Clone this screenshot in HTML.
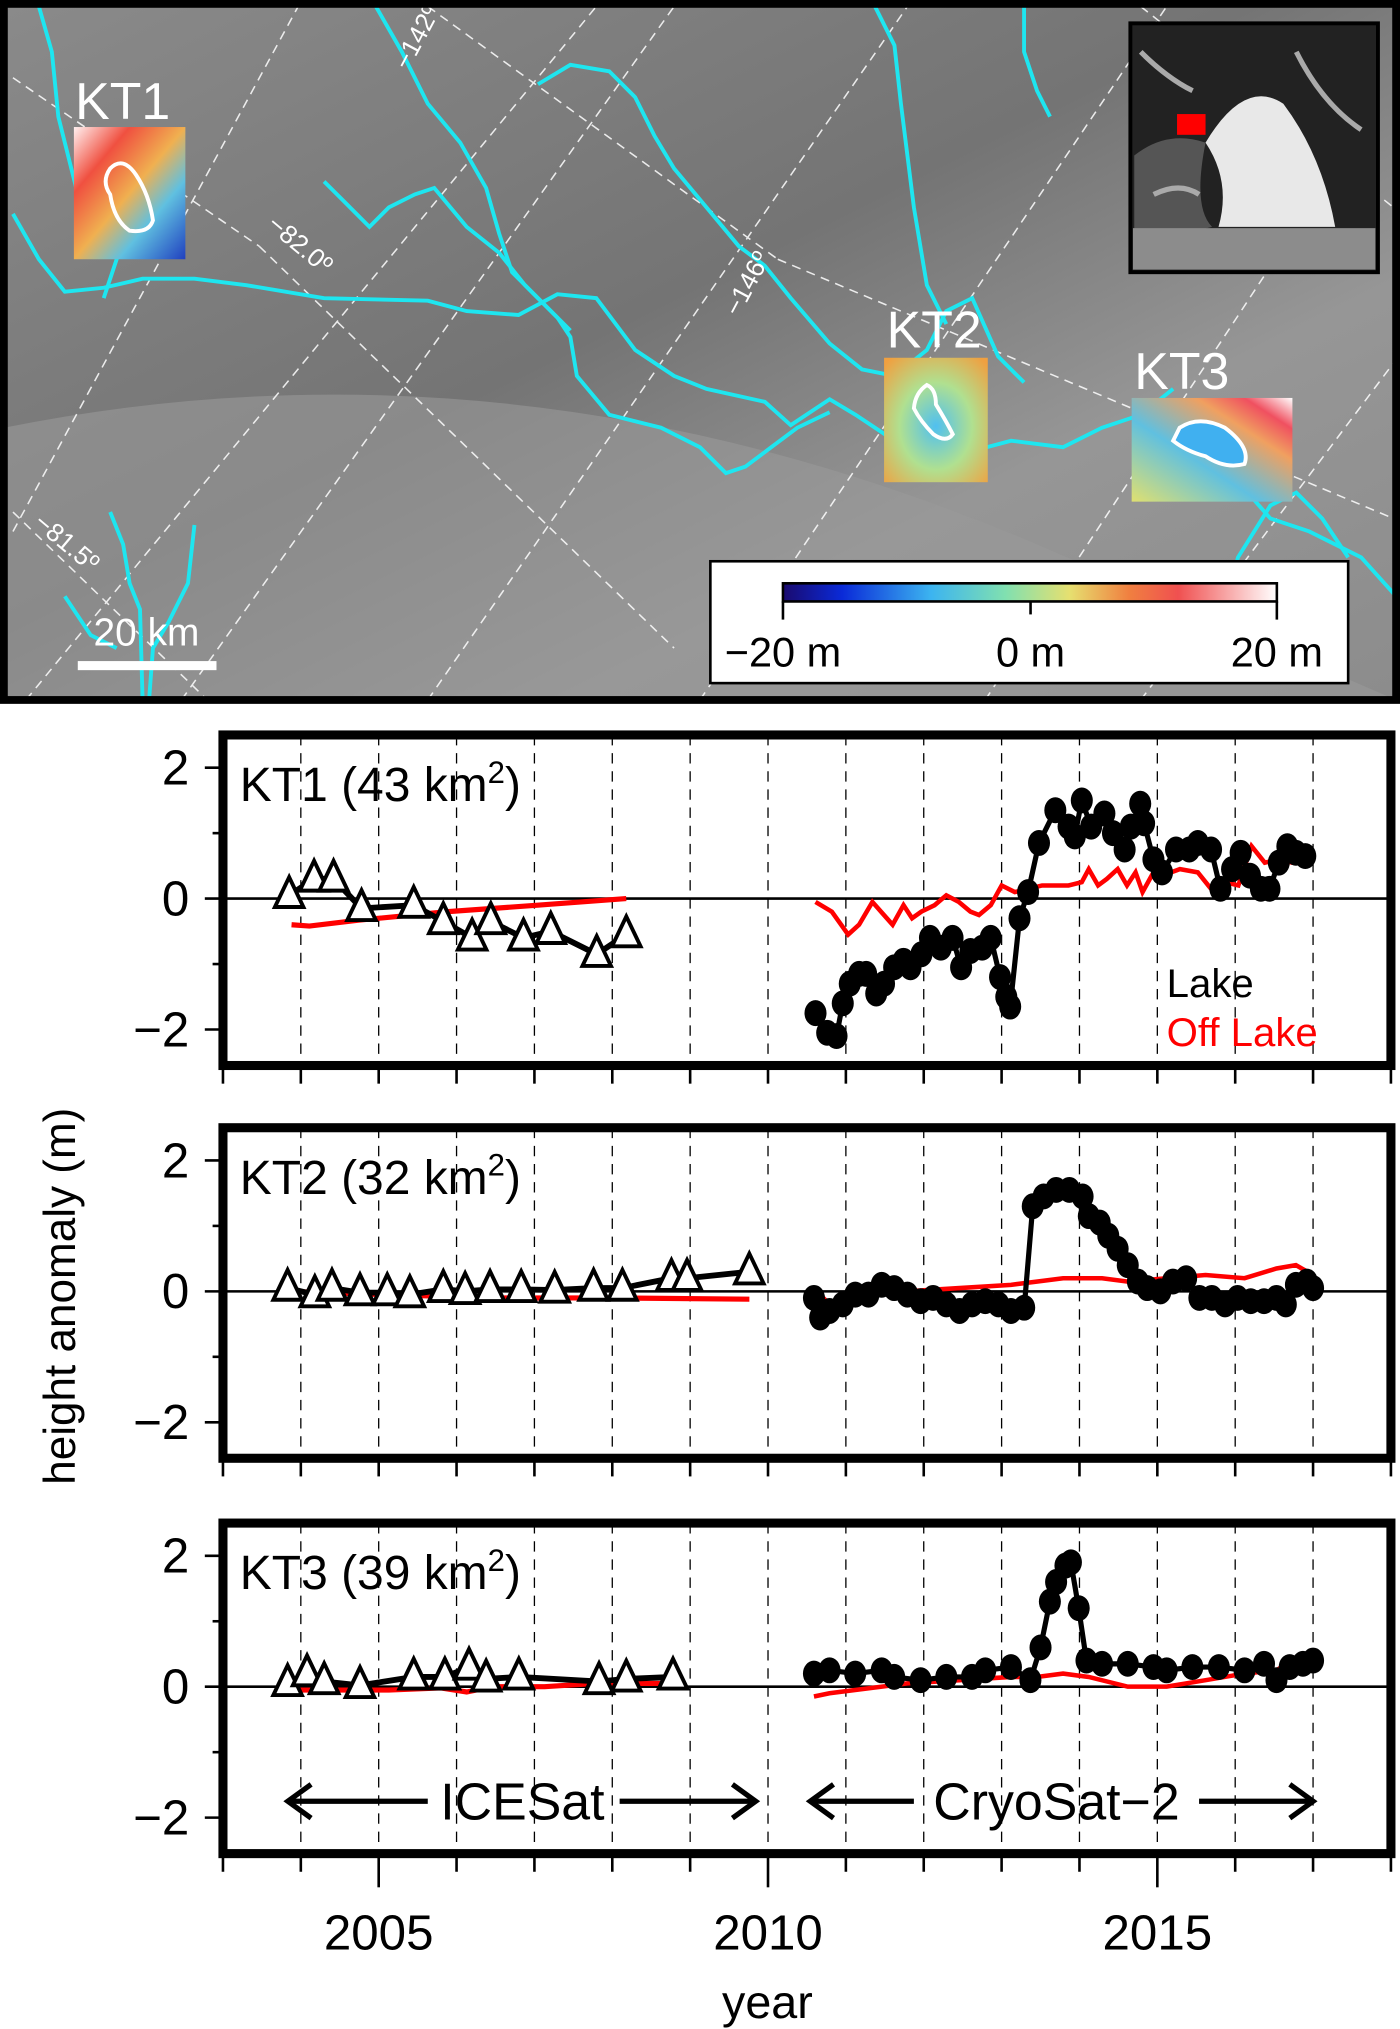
<!DOCTYPE html>
<html><head><meta charset="utf-8"><style>
html,body{margin:0;padding:0;background:#fff;}
svg{display:block;font-family:"Liberation Sans",sans-serif;}
</style></head><body>
<svg id="fig" width="1400" height="2029" viewBox="0 0 1080 1565.3" preserveAspectRatio="none" xmlns="http://www.w3.org/2000/svg">
<defs>
<linearGradient id="bg" x1="0" y1="0" x2="1" y2="1">
<stop offset="0" stop-color="#8a8a8a"/><stop offset="0.45" stop-color="#747474"/><stop offset="0.7" stop-color="#969696"/><stop offset="1" stop-color="#8c8c8c"/>
</linearGradient>
<linearGradient id="cb" x1="0" x2="1">
<stop offset="0" stop-color="#1a0a6e"/><stop offset="0.12" stop-color="#0a2ad8"/><stop offset="0.3" stop-color="#3cb4f0"/><stop offset="0.45" stop-color="#80e0b0"/><stop offset="0.58" stop-color="#e6e070"/><stop offset="0.7" stop-color="#f08040"/><stop offset="0.8" stop-color="#f05050"/><stop offset="1" stop-color="#ffffff"/>
</linearGradient>
<linearGradient id="kt1g" x1="0" y1="0" x2="1" y2="1"><stop offset="0" stop-color="#fff0f0"/><stop offset="0.25" stop-color="#f05040"/><stop offset="0.5" stop-color="#f0b050"/><stop offset="0.7" stop-color="#60c0e0"/><stop offset="1" stop-color="#2040c0"/></linearGradient>
<radialGradient id="kt2g" cx="0.5" cy="0.55" r="0.7"><stop offset="0" stop-color="#50c0f0"/><stop offset="0.5" stop-color="#b0e090"/><stop offset="1" stop-color="#f0a040"/></radialGradient>
<linearGradient id="kt3g" x1="0" y1="1" x2="1" y2="0"><stop offset="0" stop-color="#e0e070"/><stop offset="0.4" stop-color="#60c0e0"/><stop offset="0.7" stop-color="#f0a060"/><stop offset="0.85" stop-color="#f05060"/><stop offset="1" stop-color="#ffffff"/></linearGradient>
</defs>

<!-- MAP -->
<g>
<rect x="3" y="3" width="1074" height="537" fill="url(#bg)"/>
<path d="M3 330 Q400 250 800 420 L1077 540 L3 540 Z" fill="#9a9a9a" opacity="0.6"/>
<g stroke="#fff" stroke-width="1.2" stroke-dasharray="7 5" fill="none" opacity="0.85">
<line x1="10" y1="410" x2="230" y2="5"/><line x1="20" y1="540" x2="460" y2="5"/><line x1="140" y1="540" x2="520" y2="5"/><line x1="330" y1="540" x2="700" y2="5"/><line x1="540" y1="540" x2="900" y2="5"/><line x1="760" y1="540" x2="1010" y2="160"/><line x1="880" y1="540" x2="1075" y2="280"/>
<line x1="10" y1="60" x2="200" y2="190"/><line x1="200" y1="190" x2="520" y2="500"/><line x1="330" y1="5" x2="600" y2="200"/><line x1="10" y1="395" x2="160" y2="540"/><line x1="600" y1="200" x2="1075" y2="400"/><line x1="880" y1="5" x2="1075" y2="160"/>
</g>
<g stroke="#1ee6f0" stroke-width="3" fill="none">
<polyline points="10,165 30,200 50,225 80,222 110,215 150,215 190,220 250,230 330,232 360,240 400,243 430,227 460,230 490,270 520,290 545,300 590,310 610,328 640,308 660,320 690,340 720,330 750,348 780,340 820,345 850,330 880,320 905,300"/>
<polyline points="30,5 40,40 45,90 60,150 80,170 90,200 80,230"/>
<polyline points="290,5 310,40 330,80 355,110 375,145 385,180 395,210 420,235 440,255"/>
<polyline points="250,140 265,155 285,175 300,160 320,150 335,145 360,175 385,195 405,220 430,245 440,260 445,290 470,320 510,330 540,345 560,365 575,360 595,345 615,330 640,318"/>
<polyline points="415,65 440,50 470,55 490,75 505,105 520,130 545,160 570,190 590,205 610,230 640,265 665,285 690,290 715,270 730,240 750,230 770,275 790,295"/>
<polyline points="675,5 690,35 695,80 700,120 705,160 715,220 730,250"/>
<polyline points="790,5 790,40 800,70 810,90"/>
<polyline points="945,470 955,430 980,390 1000,380 1020,400 1040,430"/>
<polyline points="880,340 910,330 945,360 980,400 1010,410 1050,430 1077,460"/>
<polyline points="85,395 95,420 100,450 108,470 110,540"/>
<polyline points="150,405 145,450 130,480 118,500 115,540"/>
<polyline points="50,460 70,490 90,500"/>
</g>
<g fill="#fff" font-size="20">
<text transform="translate(315,55) rotate(-62)">−142º</text>
<text transform="translate(570,245) rotate(-62)">−146º</text>
<text transform="translate(205,175) rotate(40)">−82.0º</text>
<text transform="translate(25,405) rotate(40)">−81.5º</text>
</g>
<g>
<rect x="57" y="98" width="86" height="102" fill="url(#kt1g)"/>
<path d="M85 130 Q95 120 105 135 Q115 150 118 170 Q115 180 100 178 Q88 170 85 150 Q78 140 85 130Z" fill="none" stroke="#fff" stroke-width="3"/>
<text x="58" y="92" font-size="40" fill="#fff">KT1</text>
</g>
<g>
<rect x="682" y="276" width="80" height="96" fill="url(#kt2g)"/>
<path d="M715 297 Q722 300 722 312 Q730 325 735 335 Q730 342 720 335 Q710 325 705 315 Q706 303 715 297Z" fill="none" stroke="#fff" stroke-width="3"/>
<text x="684" y="268" font-size="40" fill="#fff">KT2</text>
</g>
<g>
<rect x="873" y="307" width="124" height="80" fill="url(#kt3g)"/>
<path d="M910 330 Q925 320 945 330 Q965 345 960 358 Q945 362 930 352 Q915 348 905 340Z" fill="#40b0f0" stroke="#fff" stroke-width="3"/>
<text x="875" y="300" font-size="40" fill="#fff">KT3</text>
</g>
<g>
<rect x="872" y="18" width="191" height="192" fill="#222" stroke="#000" stroke-width="3"/>
<path d="M930 110 Q960 60 990 80 Q1020 120 1030 175 L940 175 Q950 140 930 110Z" fill="#e8e8e8"/>
<path d="M875 120 Q900 100 930 110 Q920 160 935 175 L875 190Z" fill="#555"/>
<rect x="874" y="176" width="187" height="32" fill="#8c8c8c"/>
<path d="M880 40 Q900 60 920 70 M1000 40 Q1020 80 1050 100 M890 150 Q910 140 925 150" stroke="#aaa" stroke-width="4" fill="none"/>
<rect x="908" y="88" width="22" height="16" fill="#ff0000"/>
</g>
<g>
<rect x="548" y="433" width="492" height="94" fill="#fff" stroke="#000" stroke-width="2"/>
<rect x="604" y="450" width="381" height="14" fill="url(#cb)" stroke="#000" stroke-width="2"/>
<line x1="604" y1="464" x2="604" y2="478" stroke="#000" stroke-width="2"/><line x1="795" y1="464" x2="795" y2="474" stroke="#000" stroke-width="2"/><line x1="985" y1="464" x2="985" y2="478" stroke="#000" stroke-width="2"/>
<text x="604" y="514" font-size="32" text-anchor="middle">−20 m</text>
<text x="795" y="514" font-size="32" text-anchor="middle">0 m</text>
<text x="985" y="514" font-size="32" text-anchor="middle">20 m</text>
</g>
<g>
<rect x="60" y="510" width="107" height="7" fill="#fff"/>
<text x="113" y="498" font-size="30" fill="#fff" text-anchor="middle">20 km</text>
</g>
<rect x="3" y="3" width="1074" height="537" fill="none" stroke="#000" stroke-width="6"/>
</g>

<g id="charts"></g>
<text transform="translate(58,1000) rotate(-90)" font-size="34" text-anchor="middle">height anomaly (m)</text>
<text x="592" y="1557" font-size="36" text-anchor="middle">year</text>
</svg>
<script>
// ---- data ----
const xTicks = [2005, 2010, 2015];
const yTicks = [-2, 0, 2];
const panelNames = ["KT1 (43 km", "KT2 (32 km", "KT3 (39 km"];

const kt1IceYears = [2003.85,2004.17,2004.42,2004.78,2005.45,2005.83,2006.2,2006.44,2006.86,2007.21,2007.8,2008.18];
const kt1IceLake = [0.05,0.3,0.3,-0.15,-0.1,-0.35,-0.6,-0.35,-0.6,-0.5,-0.85,-0.55];
const kt1IceOffYears = [2003.88,2004.11,2004.74,2005.89,2007.04,2008.18];
const kt1IceOff = [-0.4,-0.42,-0.33,-0.2,-0.1,0.0];
const kt1CryoYears = [2010.61,2010.76,2010.88,2010.96,2011.05,2011.17,2011.26,2011.39,2011.49,2011.62,2011.74,2011.83,2011.97,2012.08,2012.22,2012.37,2012.48,2012.6,2012.75,2012.86,2012.98,2013.06,2013.11,2013.23,2013.34,2013.48,2013.69,2013.86,2013.94,2014.03,2014.15,2014.32,2014.43,2014.58,2014.66,2014.78,2014.83,2014.95,2015.06,2015.24,2015.41,2015.52,2015.69,2015.81,2015.96,2016.07,2016.19,2016.33,2016.44,2016.56,2016.67,2016.78,2016.9];
const kt1CryoLake = [-1.75,-2.05,-2.1,-1.6,-1.3,-1.15,-1.15,-1.45,-1.3,-1.05,-0.95,-1.05,-0.85,-0.6,-0.75,-0.6,-1.05,-0.8,-0.75,-0.6,-1.2,-1.5,-1.65,-0.3,0.1,0.85,1.35,1.1,0.95,1.5,1.1,1.3,1.0,0.75,1.1,1.45,1.15,0.6,0.4,0.75,0.75,0.85,0.75,0.15,0.45,0.7,0.35,0.15,0.15,0.55,0.8,0.7,0.65];
const kt1CryoOffYears = [2010.61,2010.82,2011.03,2011.17,2011.34,2011.45,2011.6,2011.74,2011.85,2011.97,2012.14,2012.29,2012.45,2012.6,2012.71,2012.86,2013.0,2013.17,2013.34,2013.52,2013.69,2013.86,2014.03,2014.12,2014.24,2014.35,2014.49,2014.61,2014.72,2014.81,2014.95,2015.06,2015.29,2015.52,2015.69,2015.87,2016.04,2016.21,2016.38,2016.56,2016.73,2016.9];
const kt1CryoOff = [-0.05,-0.2,-0.55,-0.4,-0.05,-0.2,-0.4,-0.1,-0.3,-0.2,-0.1,0.05,-0.05,-0.2,-0.25,-0.1,0.2,0.1,0.15,0.2,0.2,0.2,0.25,0.45,0.2,0.3,0.45,0.2,0.4,0.1,0.4,0.35,0.45,0.4,0.15,0.25,0.2,0.8,0.55,0.6,0.55,0.6];

const kt2IceYears = [2003.83,2004.18,2004.4,2004.76,2005.11,2005.4,2005.83,2006.11,2006.43,2006.83,2007.26,2007.76,2008.13,2008.76,2008.96,2009.76];
const kt2IceLake = [0.05,-0.05,0.05,-0.02,-0.02,-0.05,0.03,0.0,0.03,0.03,0.02,0.05,0.05,0.2,0.2,0.3];
const kt2IceOffYears = [2003.83,2005.11,2006.5,2008.0,2009.76];
const kt2IceOff = [0.0,-0.05,-0.1,-0.1,-0.12];
const kt2CryoYears = [2010.59,2010.67,2010.79,2010.96,2011.12,2011.29,2011.46,2011.62,2011.79,2011.96,2012.12,2012.29,2012.46,2012.62,2012.79,2012.96,2013.12,2013.29,2013.4,2013.54,2013.7,2013.87,2014.04,2014.12,2014.26,2014.37,2014.49,2014.62,2014.75,2014.87,2015.04,2015.2,2015.37,2015.54,2015.7,2015.87,2016.03,2016.2,2016.37,2016.53,2016.65,2016.78,2016.92,2017.0];
const kt2CryoLake = [-0.1,-0.4,-0.3,-0.2,-0.05,-0.05,0.1,0.05,-0.05,-0.15,-0.1,-0.2,-0.3,-0.2,-0.15,-0.2,-0.3,-0.25,1.3,1.45,1.55,1.55,1.45,1.15,1.05,0.85,0.65,0.4,0.15,0.05,0.0,0.15,0.2,-0.1,-0.1,-0.2,-0.1,-0.15,-0.15,-0.1,-0.2,0.1,0.15,0.05];
const kt2CryoOffYears = [2010.59,2010.79,2011.12,2011.79,2012.46,2013.12,2013.45,2013.79,2014.29,2014.62,2015.12,2015.62,2016.12,2016.53,2016.78,2017.0];
const kt2CryoOff = [0.05,-0.2,-0.05,0.0,0.05,0.1,0.15,0.2,0.2,0.15,0.2,0.25,0.2,0.35,0.4,0.25];

const kt3IceYears = [2003.83,2004.08,2004.3,2004.76,2005.45,2005.85,2006.16,2006.38,2006.8,2007.83,2008.18,2008.78];
const kt3IceLake = [0.05,0.2,0.08,0.02,0.15,0.15,0.3,0.12,0.15,0.08,0.12,0.15];
const kt3IceOffYears = [2003.83,2005.13,2005.8,2006.13,2006.46,2007.13,2007.79,2008.78];
const kt3IceOff = [-0.05,-0.05,-0.02,-0.08,0.0,0.0,0.05,0.05];
const kt3CryoYears = [2010.59,2010.79,2011.12,2011.46,2011.62,2011.96,2012.29,2012.62,2012.79,2013.12,2013.37,2013.5,2013.62,2013.7,2013.82,2013.89,2013.99,2014.09,2014.29,2014.62,2014.95,2015.12,2015.45,2015.79,2016.12,2016.37,2016.53,2016.7,2016.87,2017.0];
const kt3CryoLake = [0.2,0.25,0.2,0.25,0.15,0.1,0.15,0.15,0.25,0.3,0.1,0.6,1.3,1.6,1.85,1.9,1.2,0.4,0.35,0.35,0.3,0.25,0.3,0.3,0.25,0.35,0.1,0.3,0.35,0.4];
const kt3CryoOffYears = [2010.59,2010.79,2011.12,2011.79,2012.46,2013.12,2013.45,2013.79,2014.12,2014.62,2015.12,2015.62,2016.12,2016.53,2016.78,2017.0];
const kt3CryoOff = [-0.15,-0.1,-0.05,0.05,0.1,0.15,0.15,0.2,0.15,0.0,0.0,0.1,0.2,0.25,0.45,0.3];

const panels = [
  {name: panelNames[0], iy: kt1IceYears, il: kt1IceLake, ioy: kt1IceOffYears, io: kt1IceOff, cy: kt1CryoYears, cl: kt1CryoLake, coy: kt1CryoOffYears, co: kt1CryoOff},
  {name: panelNames[1], iy: kt2IceYears, il: kt2IceLake, ioy: kt2IceOffYears, io: kt2IceOff, cy: kt2CryoYears, cl: kt2CryoLake, coy: kt2CryoOffYears, co: kt2CryoOff},
  {name: panelNames[2], iy: kt3IceYears, il: kt3IceLake, ioy: kt3IceOffYears, io: kt3IceOff, cy: kt3CryoYears, cl: kt3CryoLake, coy: kt3CryoOffYears, co: kt3CryoOff}
];

// ---- layout ----
const NS = "http://www.w3.org/2000/svg";
const X0 = 172, X1 = 1073, YR0 = 2003, YR1 = 2018;
const panelTops = [567, 870, 1175];
const PH = 255, YMAX = 2.5, YMIN = -2.55;
const xs = y => X0 + (y - YR0) / (YR1 - YR0) * (X1 - X0);
const root = document.getElementById("charts");
function mk(tag, attrs, parent) {
  const e = document.createElementNS(NS, tag);
  for (const k in attrs) e.setAttribute(k, attrs[k]);
  (parent || root).appendChild(e);
  return e;
}
function linePts(xsArr, ysArr, ysF) { return xsArr.map((x, i) => xs(x).toFixed(1) + "," + ysF(ysArr[i]).toFixed(1)).join(" "); }

panels.forEach((p, pi) => {
  const top = panelTops[pi];
  const ys = v => top + (YMAX - v) / (YMAX - YMIN) * PH;
  const g = mk("g", {});
  
  
  for (let yr = 2004; yr <= 2017; yr++) {
    const l = mk("line", {x1: xs(yr), x2: xs(yr), y1: top, y2: top + PH, stroke: "#000", "stroke-width": 1, "stroke-dasharray": "8 6"}, g);
    
    
  }
  const z = mk("line", {x1: X0, x2: X1, y1: ys(0), y2: ys(0), stroke: "#000", "stroke-width": 2}, g);
  
  
  yTicks.forEach(t => {
    const tk = mk("line", {x1: X0 - 14, x2: X0, y1: ys(t), y2: ys(t), stroke: "#000", "stroke-width": 2}, g);
    
    
    const tl = mk("text", {x: X0 - 26, y: ys(t) + 13, "font-size": 38, "text-anchor": "end"}, g);
    tl.textContent = t < 0 ? "−" + Math.abs(t) : String(t);
    
    
  });
  [-1, 1].forEach(t => {
    const tk = mk("line", {x1: X0 - 8, x2: X0, y1: ys(t), y2: ys(t), stroke: "#000", "stroke-width": 2}, g);
    
    
  });
  for (let yr = 2003; yr <= 2018; yr++) {
    const long = pi === 2 && xTicks.includes(yr);
    const tk = mk("line", {x1: xs(yr), x2: xs(yr), y1: top + PH, y2: top + PH + (long ? 26 : 14), stroke: "#000", "stroke-width": 2}, g);
    
    
  }
  const ro = mk("polyline", {points: linePts(p.ioy, p.io, ys), fill: "none", stroke: "#ff0000", "stroke-width": 4}, g);
  
  
  const rc = mk("polyline", {points: linePts(p.coy, p.co, ys), fill: "none", stroke: "#ff0000", "stroke-width": 3.5}, g);
  
  
  const bi = mk("polyline", {points: linePts(p.iy, p.il, ys), fill: "none", stroke: "#000", "stroke-width": 4.5}, g);
  
  
  p.iy.forEach((x, i) => {
    const cx = xs(x), cy = ys(p.il[i]);
    const tri = mk("polygon", {points: `${cx},${cy - 14} ${cx - 11},${cy + 9} ${cx + 11},${cy + 9}`, fill: "#fff", stroke: "#000", "stroke-width": 3}, g);
    
    
  });
  const bc = mk("polyline", {points: linePts(p.cy, p.cl, ys), fill: "none", stroke: "#000", "stroke-width": 4}, g);
  
  
  p.cy.forEach((x, i) => {
    const c = mk("ellipse", {cx: xs(x), cy: ys(p.cl[i]), rx: 8.5, ry: 10, fill: "#000"}, g);
    
    
  });
  const tt = mk("text", {x: 185, y: top + 51, "font-size": 37}, g);
  
  
  tt.textContent = p.name;
  const sup = mk("tspan", {"font-size": 24, dy: -14}, tt); sup.textContent = "2";
  const cl = mk("tspan", {"font-size": 37, dy: 14}, tt); cl.textContent = ")";
  const fr = mk("rect", {x: X0, y: top, width: X1 - X0, height: PH, fill: "none", stroke: "#000", "stroke-width": 7}, g);
  
  
  if (pi === 0) {
    const l1 = mk("text", {x: 900, y: 769, "font-size": 31}, g); l1.textContent = "Lake";
    
    
    const l2 = mk("text", {x: 900, y: 807, "font-size": 31, fill: "#ff0000"}, g); l2.textContent = "Off Lake";
    
    
  }
  if (pi === 2) {
    const ay = ys(-1.75);
    const a = mk("g", {stroke: "#000", "stroke-width": 4, fill: "none"}, g);
    
    
    mk("line", {x1: 222, x2: 330, y1: ay, y2: ay}, a);
    mk("polyline", {points: `240,${ay - 13} 222,${ay} 240,${ay + 13}`}, a);
    mk("line", {x1: 478, x2: 583, y1: ay, y2: ay}, a);
    mk("polyline", {points: `565,${ay - 13} 583,${ay} 565,${ay + 13}`}, a);
    mk("line", {x1: 625, x2: 705, y1: ay, y2: ay}, a);
    mk("polyline", {points: `643,${ay - 13} 625,${ay} 643,${ay + 13}`}, a);
    mk("line", {x1: 925, x2: 1013, y1: ay, y2: ay}, a);
    mk("polyline", {points: `995,${ay - 13} 1013,${ay} 995,${ay + 13}`}, a);
    const t1 = mk("text", {x: 403, y: ay + 14, "font-size": 40, "text-anchor": "middle"}, g); t1.textContent = "ICESat";
    
    
    const t2 = mk("text", {x: 815, y: ay + 14, "font-size": 40, "text-anchor": "middle"}, g); t2.textContent = "CryoSat−2";
    
    
  }
});
xTicks.forEach(t => {
  const tl = mk("text", {x: xs(t), y: 1504, "font-size": 38, "text-anchor": "middle"});
  tl.textContent = t;
  
  
});
</script>
</body></html>
